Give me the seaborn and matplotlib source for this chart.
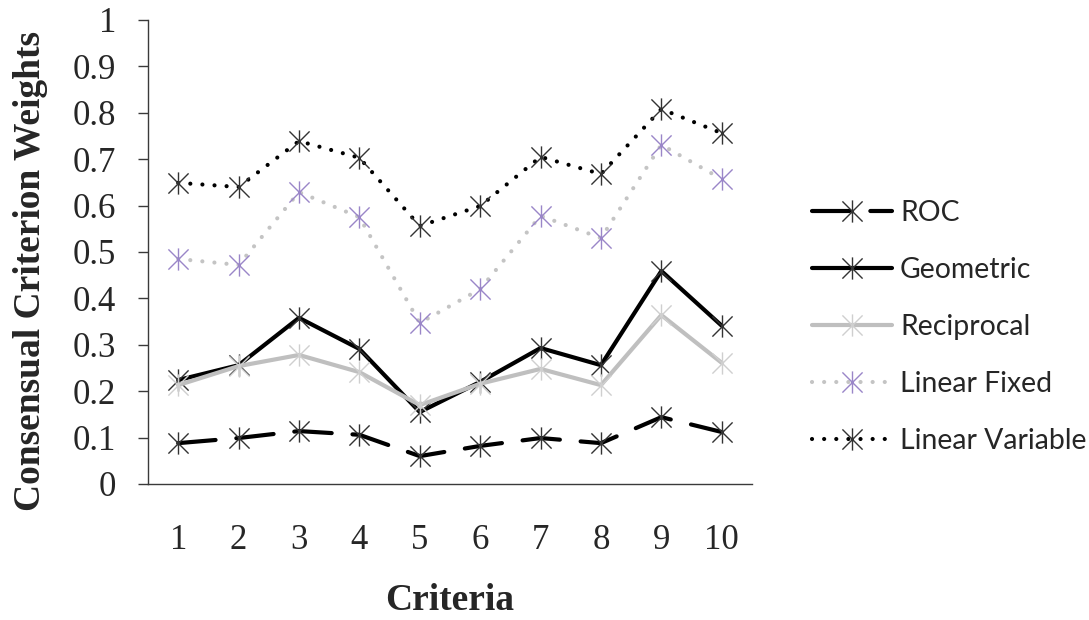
import matplotlib
matplotlib.use('Agg')
import matplotlib.pyplot as plt
import seaborn as sns
import pandas as pd
from matplotlib.path import Path

# values
criteria = [1, 2, 3, 4, 5, 6, 7, 8, 9, 10]
roc = [0.088, 0.099, 0.114, 0.106, 0.060, 0.082, 0.099, 0.088, 0.144, 0.112]
geometric = [0.224, 0.256, 0.358, 0.291, 0.155, 0.220, 0.293, 0.256, 0.459, 0.341]
reciprocal = [0.213, 0.254, 0.278, 0.241, 0.170, 0.216, 0.248, 0.213, 0.364, 0.261]
linear_fixed = [0.485, 0.472, 0.629, 0.575, 0.347, 0.420, 0.578, 0.530, 0.731, 0.657]
linear_variable = [0.649, 0.640, 0.739, 0.703, 0.556, 0.599, 0.705, 0.668, 0.808, 0.756]
yticks = [0, 0.1, 0.2, 0.3, 0.4, 0.5, 0.6, 0.7, 0.8, 0.9, 1]
yticklabels = ['0', '0.1', '0.2', '0.3', '0.4', '0.5', '0.6', '0.7', '0.8', '0.9', '1']

sns.set_style('white')
plt.rcParams['font.family'] = ['Liberation Serif', 'DejaVu Serif']

# excel style asterisk marker: an X with a vertical bar
star = Path([(-1, -1), (1, 1), (-1, 1), (1, -1), (0, -1.1), (0, 1.1)],
            [Path.MOVETO, Path.LINETO, Path.MOVETO, Path.LINETO, Path.MOVETO, Path.LINETO])

df = pd.DataFrame({'Criteria': criteria, 'ROC': roc, 'Geometric': geometric,
                   'Reciprocal': reciprocal, 'Linear Fixed': linear_fixed,
                   'Linear Variable': linear_variable})

fig = plt.figure(figsize=(10.89, 6.2), dpi=100)
ax = fig.add_axes([0.1359, 0.2194, 0.5546, 0.7484])

styles = {
    'ROC': dict(color='black', dashes=(9, 5), mec='#333333', dash_capstyle='round'),
    'Geometric': dict(color='black', mec='#333333'),
    'Reciprocal': dict(color='#bfbfbf', mec='#cfcfcf'),
    'Linear Fixed': dict(color='#c4c4c4', dashes=(0.01, 2.9), mec='#9a86c8', dash_capstyle='round'),
    'Linear Variable': dict(color='black', dashes=(0.01, 2.9), mec='#333333', dash_capstyle='round'),
}
for name, st in styles.items():
    st = dict(st)
    mec = st.pop('mec')
    sns.lineplot(data=df, x='Criteria', y=name, ax=ax, label=name, lw=3.0,
                 marker=star, markersize=16, mec=mec, mew=1.0, mfc='none', **st)

ax.set_xlim(0.5, 10.5)
ax.set_ylim(0, 1)
ax.set_yticks(yticks)
ax.set_yticklabels(yticklabels)
ax.set_xticks(criteria)
ax.set_xticklabels([str(c) for c in criteria])
for s in ['top', 'right']:
    ax.spines[s].set_visible(False)
for s in ['left', 'bottom']:
    ax.spines[s].set_color('#3a3a3a')
    ax.spines[s].set_linewidth(1.0)
ax.tick_params(axis='y', left=True, length=7, width=1.0, color='#3a3a3a', pad=16, labelsize=25)
ax.tick_params(axis='x', bottom=False, pad=25, labelsize=25)
ax.set_xlabel('Criteria', fontsize=27, fontweight='bold')
ax.xaxis.set_label_coords(0.5, -0.214)
ax.set_ylabel('Consensual Criterion Weights', fontsize=27, fontweight='bold')
ax.yaxis.set_label_coords(-0.165, 0.46)

ax.legend(loc='center left', bbox_to_anchor=(0.7456, 0.4726), bbox_transform=fig.transFigure,
          frameon=False, borderpad=0, borderaxespad=0,
          prop={'family': 'Lato', 'size': 20.4}, handlelength=2.83, handletextpad=0.28,
          labelspacing=1.1)

fig.savefig('out.png', dpi=100)
